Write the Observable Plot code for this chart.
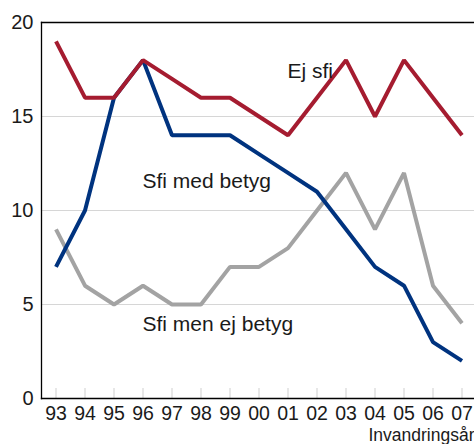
<!DOCTYPE html>
<html>
<head>
<meta charset="utf-8">
<script src="https://cdn.jsdelivr.net/npm/d3@7"></script>
<script src="https://cdn.jsdelivr.net/npm/@observablehq/plot@0.6"></script>
<style>
  html, body { margin: 0; padding: 0; background: #fff; }
  svg { display: block; }
</style>
</head>
<body>
<div id="chart"></div>
<script>
const years = ["93","94","95","96","97","98","99","00","01","02","03","04","05","06","07"];
const ejSfi      = [19,16,16,18,17,16,16,15,14,16,18,15,18,16,14];
const sfiMed     = [7,10,16,18,14,14,14,13,12,11,9,7,6,3,2];
const sfiMenEj   = [9,6,5,6,5,5,7,7,8,10,12,9,12,6,4];
const seriesNames = ["Sfi men ej betyg", "Sfi med betyg", "Ej sfi"];
const seriesValues = [sfiMenEj, sfiMed, ejSfi];
const seriesColors = ["#a3a3a3", "#00337f", "#a51c30"];
const yTicks = [0, 5, 10, 15, 20];
const gridValues = [5, 10, 15];
const labels = [
  {text: "Ej sfi", x: "01", y: 17.4, dx: -10},
  {text: "Sfi med betyg", x: "96", y: 11.55, dx: 3},
  {text: "Sfi men ej betyg", x: "96", y: 3.9, dx: -5}
];
const xTitle = "Invandringsår";

const rows = seriesNames.flatMap((name, i) =>
  years.map((yr, j) => ({series: name, year: yr, value: seriesValues[i][j]})));

const chart = Plot.plot({
  width: 474,
  height: 444,
  marginLeft: 41,
  marginRight: -2,
  marginTop: 22,
  marginBottom: 46,
  style: {fontFamily: "Liberation Sans, Arial, sans-serif", background: "#fff"},
  x: {type: "point", domain: years, padding: 0.5, round: false},
  y: {domain: [0, 20]},
  color: {domain: seriesNames, range: seriesColors},
  marks: [
    Plot.ruleY(gridValues, {stroke: "#d6d6d6", strokeWidth: 1}),
    Plot.axisX({tickSize: -10, text: null, stroke: "#cfcfcf", label: null}),
    Plot.axisX({tickSize: 0, tickPadding: 8, fontSize: 19.5, fill: "#1a1a1a",
      label: null}),
    Plot.axisY(yTicks, {tickSize: 0, tickPadding: 8, fontSize: 20, fill: "#1a1a1a", label: null}),
    Plot.frame({anchor: "top", stroke: "#000", strokeWidth: 1.3}),
    Plot.frame({anchor: "bottom", stroke: "#000", strokeWidth: 1.3}),
    Plot.frame({anchor: "left", stroke: "#000", strokeWidth: 1.3}),
    Plot.line(rows, {x: "year", y: "value", z: "series", stroke: "series",
      strokeWidth: 4, strokeLinejoin: "miter", strokeLinecap: "butt"}),
    Plot.text(labels, {x: "x", y: "y", text: "text", dx: "dx", textAnchor: "start",
      fontSize: 21, fill: "#1a1a1a"}),
    Plot.text([xTitle], {frameAnchor: "bottom-right", text: d => d, dy: 36.5, dx: -2,
      textAnchor: "end", lineAnchor: "middle", fontSize: 17.5, fill: "#1a1a1a"})
  ]
});
document.getElementById("chart").appendChild(chart);
</script>
</body>
</html>
